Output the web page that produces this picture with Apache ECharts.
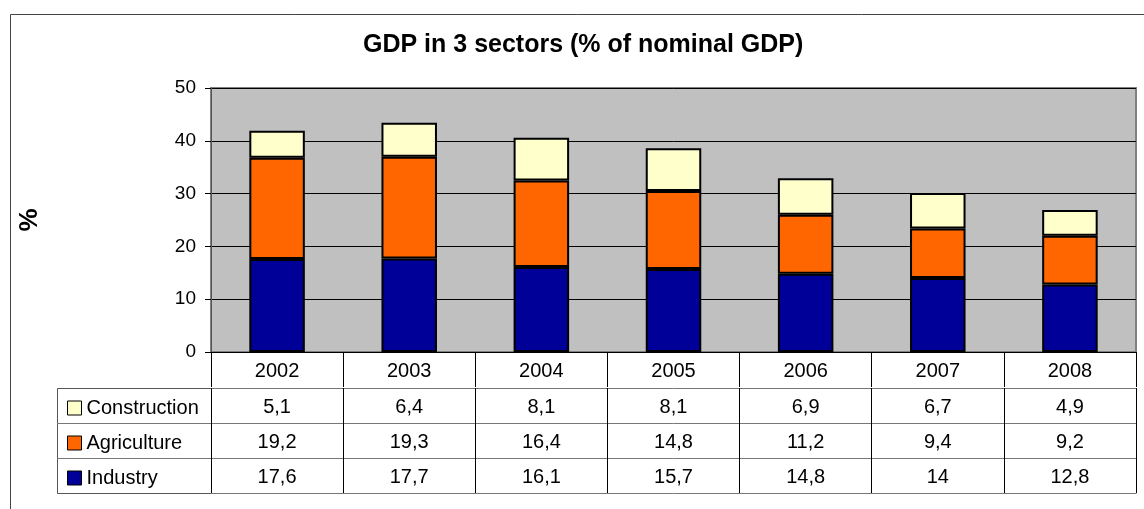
<!DOCTYPE html>
<html>
<head>
<meta charset="utf-8">
<script src="https://cdn.jsdelivr.net/npm/echarts@6/dist/echarts.min.js"></script>
<style>
  html, body { margin: 0; padding: 0; background: #fff; }
  #chart { width: 1144px; height: 509px; }
</style>
</head>
<body>
<div id="chart"></div>
<script>
// Sector shares of nominal GDP, %
const years = ['2002', '2003', '2004', '2005', '2006', '2007', '2008'];
const construction = [5.1, 6.4, 8.1, 8.1, 6.9, 6.7, 4.9];
const agriculture = [19.2, 19.3, 16.4, 14.8, 11.2, 9.4, 9.2];
const industry = [17.6, 17.7, 16.1, 15.7, 14.8, 14, 12.8];
const yTicks = { min: 0, max: 50, interval: 10 };

const FONT = 'Liberation Sans, Arial, sans-serif';
const ROW_H = 35;
const fmt = v => String(v).replace('.', ',');

const chart = echarts.init(document.getElementById('chart'));

// One bottom axis per table row: its line is the row's top border,
// its boundary ticks are the cell dividers, its labels are the cell values.
function rowAxis(offset, values, showLabel, showTick) {
  return {
    type: 'category',
    data: years,
    position: 'bottom',
    offset: offset,
    boundaryGap: true,
    axisLine: { show: true, lineStyle: { color: offset === 0 ? '#000' : '#777', width: 1 } },
    axisTick: { show: showTick, alignWithLabel: false, interval: 0, length: ROW_H, lineStyle: { color: '#000', width: 1 } },
    axisLabel: {
      show: showLabel, interval: 0, margin: 9,
      color: '#000', fontSize: 20, fontFamily: FONT,
      formatter: (val, idx) => values ? fmt(values[idx]) : val
    },
    splitLine: { show: false }
  };
}

const barBorder = { borderColor: '#000', borderWidth: 2 };

chart.setOption({
  animation: false,
  backgroundColor: '#fff',
  textStyle: { fontFamily: FONT },
  title: {
    text: 'GDP in 3 sectors (% of nominal GDP)',
    left: 358, top: 28,
    textStyle: { fontSize: 25, fontWeight: 'bold', color: '#000', fontFamily: FONT }
  },
  legend: {
    orient: 'vertical', left: 62, top: 393,
    itemWidth: 14, itemHeight: 14, itemGap: 15,
    icon: 'rect',
    data: ['Construction', 'Agriculture', 'Industry'],
    itemStyle: { borderColor: '#000', borderWidth: 1 },
    textStyle: { fontSize: 20, color: '#000', fontFamily: FONT, lineHeight: 20, padding: 0 },
    selectedMode: false
  },
  grid: {
    left: 211, right: 8, top: 88, bottom: 157,
    show: true, backgroundColor: '#C0C0C0', borderColor: '#808080', borderWidth: 2
  },
  xAxis: [
    rowAxis(0, null, true, true),
    rowAxis(ROW_H + 1, construction, true, true),
    rowAxis(2 * ROW_H + 1, agriculture, true, true),
    rowAxis(3 * ROW_H + 1, industry, true, true),
    rowAxis(4 * ROW_H + 1, null, false, false)
  ],
  yAxis: {
    type: 'value',
    min: yTicks.min, max: yTicks.max, interval: yTicks.interval,
    name: '%', nameLocation: 'middle', nameRotate: 90, nameGap: 168,
    nameTextStyle: { fontSize: 26, fontWeight: 'bold', color: '#000', fontFamily: FONT },
    axisLine: { show: true, lineStyle: { color: '#555', width: 1 } },
    axisTick: { show: true, inside: false, length: 6, lineStyle: { color: '#000' } },
    axisLabel: { color: '#000', fontSize: 19, fontFamily: FONT, margin: 15 },
    splitLine: { show: true, lineStyle: { color: '#000', width: 1 } }
  },
  series: [
    { name: 'Industry', type: 'bar', stack: 'gdp', data: industry, barWidth: '42%',
      itemStyle: Object.assign({ color: '#000099' }, barBorder) },
    { name: 'Agriculture', type: 'bar', stack: 'gdp', data: agriculture, barWidth: '42%',
      itemStyle: Object.assign({ color: '#FF6600' }, barBorder) },
    { name: 'Construction', type: 'bar', stack: 'gdp', data: construction, barWidth: '42%',
      itemStyle: Object.assign({ color: '#FFFFCC' }, barBorder) }
  ],
  graphic: [
    // outer chart frame
    { type: 'rect', silent: true, z: -1,
      shape: { x: 10.5, y: 14.5, width: 1200, height: 600 },
      style: { fill: 'none', stroke: '#444', lineWidth: 1 } },
    // legend column of the data table
    { type: 'rect', silent: true,
      shape: { x: 57.5, y: 388.5, width: 154, height: 105 },
      style: { fill: 'none', stroke: '#555', lineWidth: 1 } },
    { type: 'line', silent: true,
      shape: { x1: 57, y1: 423.5, x2: 211, y2: 423.5 },
      style: { stroke: '#777', lineWidth: 1 } },
    { type: 'line', silent: true,
      shape: { x1: 57, y1: 458.5, x2: 211, y2: 458.5 },
      style: { stroke: '#777', lineWidth: 1 } }
  ]
});
</script>
</body>
</html>
